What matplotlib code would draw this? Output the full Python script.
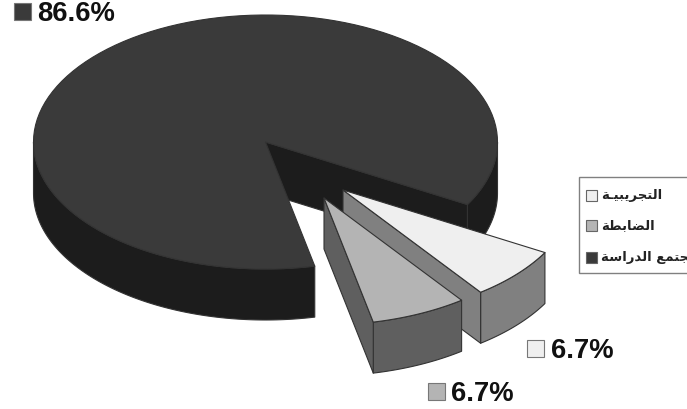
#!/usr/bin/env python3
"""Exploded 3D style pie with three groups, drawn with plain polygons."""

import numpy as np
import matplotlib
matplotlib.use("Agg")
import matplotlib.pyplot as plt
from matplotlib.patches import Polygon, Rectangle

# data
categories = ["التجريبيـة", "الضابطة", "مجتمع الدراسة"]
values = [6.7, 6.7, 86.6]
value_labels = ["6.7%", "6.7%", "86.6%"]

# styles, same order as categories
top_colors = ["#efefef", "#b4b4b4", "#3a3a3a"]
side_colors = ["#808080", "#5f5f5f", "#1c1c1c"]
offsets = [(77.5, 48), (58.5, 56), (0, 0)]
swatch_pos = [(527, 341), (428, 384), (14, 4)]
legend_y = [196, 226, 258]

CX, CY = 265.5, 143
RX, RY = 232, 127
DEPTH = 51
START = -29.5
EDGE = "#333333"

# isolated, final, initial, medial
FORMS = {
    "ا": "\ufe8d\ufe8e", "د": "\ufea9\ufeaa", "ر": "\ufead\ufeae", "ة": "\ufe93\ufe94",
    "ل": "\ufedd\ufede\ufedf\ufee0", "ت": "\ufe95\ufe96\ufe97\ufe98",
    "ج": "\ufe9d\ufe9e\ufe9f\ufea0", "ي": "\ufef1\ufef2\ufef3\ufef4",
    "ب": "\ufe8f\ufe90\ufe91\ufe92", "ض": "\ufebd\ufebe\ufebf\ufec0",
    "ط": "\ufec1\ufec2\ufec3\ufec4", "م": "\ufee1\ufee2\ufee3\ufee4",
    "ع": "\ufec9\ufeca\ufecb\ufecc", "س": "\ufeb1\ufeb2\ufeb3\ufeb4",
}


def shape_arabic(text):
    """matplotlib does no Arabic shaping, so pick the joined forms and reverse."""
    out = []
    for i, ch in enumerate(text):
        if ch == "\u0640" or ch not in FORMS:
            out.append(ch)
            continue
        prev = text[i - 1] if i > 0 else " "
        nxt = text[i + 1] if i + 1 < len(text) else " "
        joins_prev = prev == "\u0640" or (prev in FORMS and len(FORMS[prev]) == 4)
        joins_next = len(FORMS[ch]) == 4 and (nxt == "\u0640" or nxt in FORMS)
        form = FORMS[ch]
        if joins_prev and joins_next:
            out.append(form[3])
        elif joins_next:
            out.append(form[2])
        elif joins_prev:
            out.append(form[1])
        else:
            out.append(form[0])
    return "".join(reversed(out))


def rim(t1, t2, dx, dy):
    t = np.radians(np.linspace(t1, t2, 120))
    return np.column_stack([CX + dx + RX * np.cos(t), CY + dy - RY * np.sin(t)])


def draw_slice(ax, t1, t2, top, side, dx, dy, z):
    apex = np.array([CX + dx, CY + dy])
    down = np.array([0, DEPTH])
    style = dict(edgecolor=EDGE, linewidth=0.8, joinstyle="round", zorder=z)

    # outer wall, only the part on the front half of the ellipse shows
    lo, hi = max(t1, -180), min(t2, 0)
    if lo < hi:
        arc = rim(lo, hi, dx, dy)
        ax.add_patch(Polygon(np.vstack([arc, (arc + down)[::-1]]), facecolor=side, **style))

    # the second stretch of front wall when a slice wraps past 180 degrees
    if t2 > 180:
        arc = rim(180, min(t2, 360), dx, dy)
        ax.add_patch(Polygon(np.vstack([arc, (arc + down)[::-1]]), facecolor=side, **style))

    # cut face, visible only on the lower bound of the slice
    corner = rim(t1, t1, dx, dy)[0]
    ax.add_patch(Polygon([apex, corner, corner + down, apex + down], facecolor=side, **style))

    ax.add_patch(Polygon(np.vstack([apex, rim(t1, t2, dx, dy)]), facecolor=top, **style))


plt.rcParams["font.family"] = ["Liberation Sans", "DejaVu Sans"]
fig = plt.figure(figsize=(6.87, 4.10), dpi=100)
ax = fig.add_axes([0, 0, 1, 1])
ax.set_xlim(0, 687)
ax.set_ylim(410, 0)
ax.axis("off")

# slices run clockwise from START, the big one takes what is left
sweeps = [v / sum(values) * 360 for v in values]
a_light = (START - sweeps[0], START)
a_ctrl = (a_light[0] - sweeps[1], a_light[0])
a_main = (START, a_ctrl[0] + 360)

# big slice first: its front left wall, right wall and cut face
t1, t2 = a_main
draw_slice(ax, t1, t2, top_colors[2], side_colors[2], *offsets[2], 1)

for i, ang, z in [(0, a_light, 2), (1, a_ctrl, 3)]:
    draw_slice(ax, ang[0], ang[1], top_colors[i], side_colors[i], *offsets[i], z)

# value labels with their swatches
for label, col, (sx, sy) in zip(value_labels, top_colors, swatch_pos):
    ax.add_patch(Rectangle((sx, sy), 17, 17, facecolor=col, edgecolor="#777777", linewidth=0.8, zorder=5))
    ax.text(sx + 23.5, sy + 10, label, fontsize=19.8, fontweight="bold", color="#111111",
            ha="left", va="center", zorder=5)

# legend box runs off the right side of the picture, the last label is cut there too
ax.add_patch(Rectangle((579, 178), 130, 96, facecolor="white", edgecolor="#808080",
                       linewidth=1.0, zorder=5))
for cat, col, y in zip(categories, top_colors, legend_y):
    ax.add_patch(Rectangle((586, y - 5.5), 11, 11, facecolor=col, edgecolor="#666666",
                           linewidth=0.8, zorder=6))
    ax.text(601, y, shape_arabic(cat), family="DejaVu Sans", fontsize=9.5, fontweight="bold",
            ha="left", va="center", color="#222222", zorder=6)

fig.savefig("out.png", dpi=100)
